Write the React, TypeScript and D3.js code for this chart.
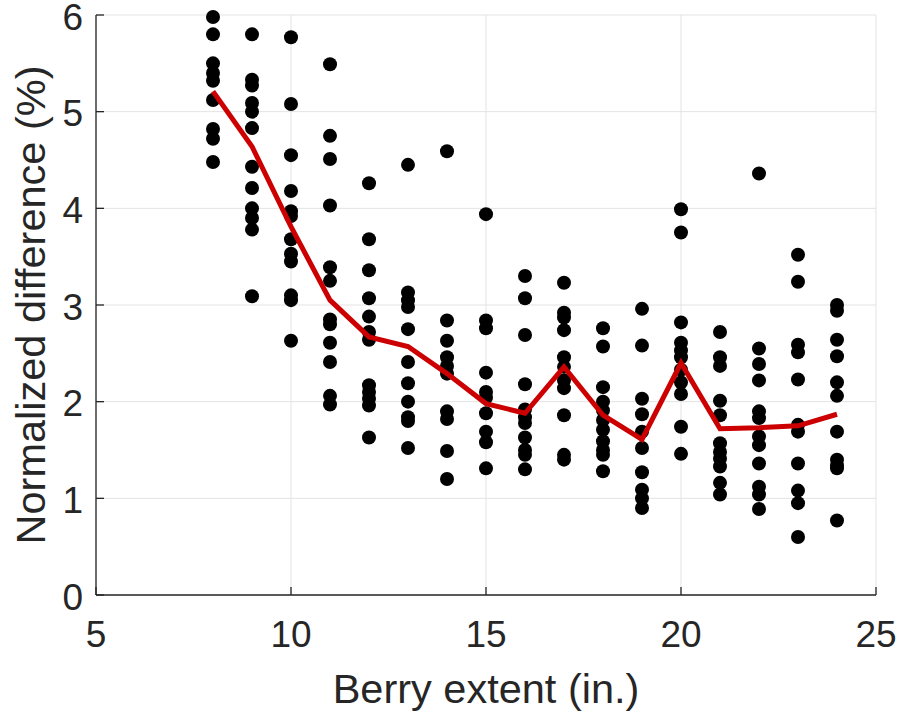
import React from "react";
import * as d3 from "d3";

const xCategories = [8, 9, 10, 11, 12, 13, 14, 15, 16, 17, 18, 19, 20, 21, 22, 23, 24];

const pointsAt8 = [5.98, 5.8, 5.5, 5.4, 5.32, 5.12, 4.82, 4.72, 4.48];
const pointsAt9 = [5.8, 5.33, 5.27, 5.09, 5.0, 4.83, 4.43, 4.21, 4.0, 3.9, 3.78, 3.09];
const pointsAt10 = [5.77, 5.08, 4.55, 4.18, 3.97, 3.92, 3.68, 3.53, 3.45, 3.1, 3.05, 2.63];
const pointsAt11 = [5.49, 4.75, 4.51, 4.03, 3.39, 3.25, 2.85, 2.8, 2.61, 2.41, 2.06, 1.97];
const pointsAt12 = [4.26, 3.68, 3.36, 3.07, 2.88, 2.72, 2.64, 2.17, 2.1, 2.03, 1.96, 1.63];
const pointsAt13 = [4.45, 3.13, 3.05, 2.98, 2.75, 2.41, 2.19, 2.0, 1.84, 1.8, 1.52];
const pointsAt14 = [4.59, 2.84, 2.63, 2.46, 2.37, 2.29, 1.9, 1.82, 1.49, 1.2];
const pointsAt15 = [3.94, 2.84, 2.76, 2.3, 2.1, 2.04, 1.88, 1.69, 1.58, 1.31];
const pointsAt16 = [3.3, 3.07, 2.69, 2.18, 1.92, 1.84, 1.78, 1.63, 1.5, 1.45, 1.3];
const pointsAt17 = [3.23, 2.92, 2.87, 2.74, 2.46, 2.36, 2.22, 2.14, 1.86, 1.45, 1.4];
const pointsAt18 = [2.76, 2.57, 2.15, 2.0, 1.91, 1.81, 1.71, 1.59, 1.5, 1.45, 1.28];
const pointsAt19 = [2.96, 2.58, 2.03, 1.87, 1.69, 1.52, 1.27, 1.09, 1.0, 0.9];
const pointsAt20 = [3.99, 3.75, 2.82, 2.61, 2.53, 2.46, 2.33, 2.2, 2.08, 1.74, 1.46];
const pointsAt21 = [2.72, 2.46, 2.37, 2.01, 1.86, 1.57, 1.48, 1.41, 1.33, 1.16, 1.04];
const pointsAt22 = [4.36, 2.55, 2.39, 2.22, 1.9, 1.83, 1.64, 1.55, 1.36, 1.12, 1.04, 0.89];
const pointsAt23 = [3.52, 3.24, 2.59, 2.51, 2.23, 1.76, 1.69, 1.36, 1.08, 0.95, 0.6];
const pointsAt24 = [3.0, 2.94, 2.64, 2.47, 2.2, 2.06, 1.69, 1.4, 1.34, 1.31, 0.77];

const pointColumns = [
  pointsAt8, pointsAt9, pointsAt10, pointsAt11, pointsAt12, pointsAt13, pointsAt14,
  pointsAt15, pointsAt16, pointsAt17, pointsAt18, pointsAt19, pointsAt20, pointsAt21,
  pointsAt22, pointsAt23, pointsAt24,
];

const meanLine = [5.21, 4.64, 3.81, 3.05, 2.67, 2.57, 2.29, 1.98, 1.88, 2.36, 1.86, 1.61, 2.4, 1.72, 1.73, 1.75, 1.87];

const xTicks = [5, 10, 15, 20, 25];
const yTicks = [0, 1, 2, 3, 4, 5, 6];

const xLabel = "Berry extent (in.)";
const yLabel = "Normalized difference (%)";

export default function App() {
  const W = 898;
  const H = 714;
  const left = 96;
  const right = 876;
  const top = 15;
  const bottom = 595;
  const x = d3.scaleLinear().domain([5, 25]).range([left, right]);
  const y = d3.scaleLinear().domain([0, 6]).range([bottom, top]);
  const axisColor = "#262626";
  const gridColor = "#e3e3e3";
  const font = "Liberation Sans, Arial, Helvetica, sans-serif";

  const pts: { cx: number; cy: number }[] = [];
  xCategories.forEach((c, i) => {
    pointColumns[i].forEach((v) => pts.push({ cx: x(c), cy: y(v) }));
  });

  const line = d3
    .line<number>()
    .x((_, i) => x(xCategories[i]))
    .y((d) => y(d));

  return (
    <svg
      width={W}
      height={H}
      style={{ position: "absolute", left: 0, top: 0, display: "block", background: "#fff" }}
      fontFamily={font}
    >
      {xTicks.map((t) => (
        <line key={"gx" + t} x1={x(t)} x2={x(t)} y1={top} y2={bottom} stroke={gridColor} strokeWidth={1} />
      ))}
      {yTicks.map((t) => (
        <line key={"gy" + t} x1={left} x2={right} y1={y(t)} y2={y(t)} stroke={gridColor} strokeWidth={1} />
      ))}
      <line x1={left} x2={right} y1={bottom} y2={bottom} stroke={axisColor} strokeWidth={1.3} />
      <line x1={left} x2={left} y1={top} y2={bottom} stroke={axisColor} strokeWidth={1.3} />
      {xTicks.map((t) => (
        <line key={"tx" + t} x1={x(t)} x2={x(t)} y1={bottom} y2={bottom - 8} stroke={axisColor} strokeWidth={1.3} />
      ))}
      {yTicks.map((t) => (
        <line key={"ty" + t} x1={left} x2={left + 8} y1={y(t)} y2={y(t)} stroke={axisColor} strokeWidth={1.3} />
      ))}
      {xTicks.map((t) => (
        <text key={"lx" + t} x={x(t)} y={647} textAnchor="middle" fontSize={37} fill={axisColor}>
          {t}
        </text>
      ))}
      {yTicks.map((t) => (
        <text key={"ly" + t} x={83} y={y(t)} dy="0.4em" textAnchor="end" fontSize={37} fill={axisColor}>
          {t}
        </text>
      ))}
      <text x={(left + right) / 2} y={703} textAnchor="middle" fontSize={41.5} fill={axisColor}>
        {xLabel}
      </text>
      <text
        transform={`translate(45,${(top + bottom) / 2}) rotate(-90)`}
        textAnchor="middle"
        fontSize={41.5}
        fill={axisColor}
      >
        {yLabel}
      </text>
      {pts.map((p, i) => (
        <circle key={i} cx={p.cx} cy={p.cy} r={7} fill="#000" />
      ))}
      <path d={line(meanLine) || ""} fill="none" stroke="#cc0000" strokeWidth={5} strokeLinejoin="miter" />
    </svg>
  );
}
